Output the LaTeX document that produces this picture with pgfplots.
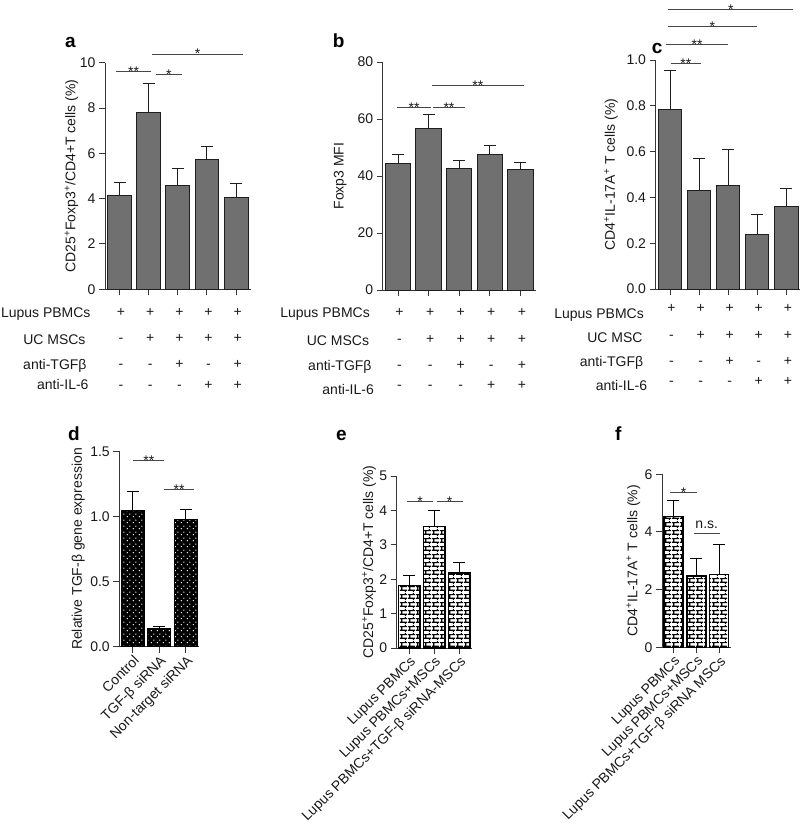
\documentclass[border=0pt]{standalone}
\usepackage{fontspec}
\setmainfont{Liberation Sans}
\usepackage{pgfplots}
\pgfplotsset{compat=1.18}
\usetikzlibrary{patterns.meta}

\definecolor{axcol}{RGB}{55,55,55}
\definecolor{barfill}{RGB}{112,112,112}
\definecolor{bardraw}{RGB}{30,30,30}
\definecolor{sigcol}{RGB}{70,70,70}

% white dots on black (panel d), black bricks on white (panels e, f)
\tikzdeclarepattern{name=wdots, type=uncolored,
  bottom left={(0pt,0pt)}, top right={(6pt,6pt)}, tile size={(6pt,6pt)},
  code={\fill (1.5pt,1.5pt) circle (0.8pt); \fill (4.5pt,4.5pt) circle (0.8pt);}}
\tikzdeclarepattern{name=wbricks, type=uncolored,
  bottom left={(0pt,0pt)}, top right={(8pt,8pt)}, tile size={(8pt,8pt)},
  code={\draw[line width=1.25pt] (0pt,2pt) -- (8pt,2pt) (0pt,6pt) -- (8pt,6pt)
    (2pt,2pt) -- (2pt,6pt) (6pt,6pt) -- (6pt,8pt) (6pt,0pt) -- (6pt,2pt);}}

\newcommand{\fs}{\fontsize{14}{16.8}\selectfont}
\newcommand{\sg}[4]{\begin{tabular}{@{}c@{}}#1\\[9.7pt]#2\\[9.2pt]#3\\[3.7pt]#4\end{tabular}}

\tikzset{star/.style={pos=0.5, anchor=base, yshift=-4.7pt, inner sep=0pt, font=\fs, text=black!90}}

\pgfplotsset{
  panel/.style={
    scale only axis, anchor=south west, clip=false,
    axis lines=left, axis line style={-, line width=1pt, draw=axcol},
    tick align=outside, major tick length=6pt,
    tick style={line width=1pt, draw=axcol},
    ymin=0, xmin=0.5,
    ticklabel style={font=\fs, text=black!90},
    ylabel style={font=\fs, text=black!90, anchor=center},
    /pgf/number format/assume math mode=true,
  },
  signs/.style={xtick={1,...,5},
    xticklabels={{\sg{+}{-}{-}{-}},{\sg{+}{+}{-}{-}},{\sg{+}{+}{+}{-}},{\sg{+}{+}{-}{+}},{\sg{+}{+}{+}{+}}},
    xticklabel style={anchor=north, inner sep=0pt, yshift=#1, xshift=1.5pt}},
  rotlab/.style={xtick={1,2,3},
    xticklabel style={rotate=45, anchor=north east, inner sep=1pt}},
  errs/.style={error bars/y dir=plus, error bars/y explicit,
    error bars/error bar style={line width=1pt, draw=#1},
    error bars/error mark options={rotate=90, line width=1pt, mark size=6pt, draw=#1}},
  gbar/.style={ybar, bar width=#1, fill=barfill, draw=bardraw, line width=1pt, errs=bardraw},
  dbar/.style={ybar, bar width=#1, draw=black, line width=1.2pt,
    preaction={fill=black}, pattern=wdots, pattern color=white, errs=black},
  bbar/.style={ybar, bar width=#1, draw=black, line width=1.4pt,
    preaction={fill=white}, pattern=wbricks, pattern color=black, errs=black},
  sig/.style={sigcol, line width=1pt, no marks, forget plot},
}

\begin{document}
\begin{tikzpicture}[font=\fs]
\path[use as bounding box] (0,0) rectangle (800pt,-824pt);

% ---- a ----
\begin{axis}[panel, signs=-9pt, at={(105pt,-289.3pt)}, width=145.7pt, height=226.6pt,
  xmax=5.5, ymax=10, ytick={0,2,...,10},
  ylabel={CD25\textsuperscript{+}Foxp3\textsuperscript{+}/CD4+T cells (\%)},
  ylabel style={at={([xshift=-33.5pt]axis description cs:0,0.5)}}]
\addplot[gbar=0.82] coordinates {
  (1,4.16) +- (0,0.56) (2,7.82) +- (0,1.27) (3,4.59) +- (0,0.72)
  (4,5.74) +- (0,0.58) (5,4.03) +- (0,0.66)};
\addplot[sig] coordinates {(0.88,9.59) (2.08,9.59)} node[star]{**};
\addplot[sig] coordinates {(2.25,9.47) (3.14,9.47)} node[star]{*};
\addplot[sig] coordinates {(2.11,10.38) (5.24,10.38)} node[star]{*};
\end{axis}

% ---- b ----
\begin{axis}[panel, signs=-9pt, at={(382.7pt,-290pt)}, width=153pt, height=228pt,
  xmax=5.5, ymax=80, ytick={0,20,...,80},
  ylabel={Foxp3 MFI},
  ylabel style={at={([xshift=-42.4pt]axis description cs:0,0.5)}}]
\addplot[gbar=0.83] coordinates {
  (1,44.4) +- (0,3.3) (2,56.6) +- (0,5.15) (3,42.6) +- (0,3.0)
  (4,47.5) +- (0,3.1) (5,42.2) +- (0,2.6)};
\addplot[sig] coordinates {(0.98,64.1) (2.07,64.1)} node[star]{**};
\addplot[sig] coordinates {(2.15,64.1) (3.18,64.1)} node[star]{**};
\addplot[sig] coordinates {(2.1,71.8) (5.12,71.8)} node[star]{**};
\end{axis}

% ---- c ----
\begin{axis}[panel, signs=-6pt, at={(655.5pt,-289pt)}, width=144pt, height=229pt,
  xmax=5.45, ymax=1, ytick={0,0.2,...,1.0},
  yticklabel style={/pgf/number format/.cd, fixed, fixed zerofill, precision=1},
  ylabel={CD4\textsuperscript{+}IL-17A\textsuperscript{+} T cells (\%)},
  ylabel style={at={([xshift=-44.5pt]axis description cs:0,0.5)}}]
\addplot[gbar=0.80] coordinates {
  (1,0.786) +- (0,0.170) (2,0.430) +- (0,0.141) (3,0.453) +- (0,0.158)
  (4,0.238) +- (0,0.086) (5,0.362) +- (0,0.077)};
\addplot[sig] coordinates {(1.03,0.983) (2.05,0.983)} node[star]{**};
\addplot[sig] coordinates {(0.86,1.066) (3.0,1.066)} node[star]{**};
\addplot[sig] coordinates {(0.92,1.147) (3.98,1.147)} node[star]{*};
\addplot[sig] coordinates {(0.94,1.221) (5.24,1.221)} node[star]{*};
\end{axis}

% ---- d ----
\begin{axis}[panel, rotlab, at={(119.3pt,-646.7pt)}, width=80pt, height=195.4pt,
  xmax=3.5, ymax=1.5, ytick={0,0.5,1.0,1.5},
  yticklabel style={/pgf/number format/.cd, fixed, fixed zerofill, precision=1},
  xticklabels={Control, TGF-β siRNA, Non-target siRNA},
  ylabel={Relative TGF-β gene expression},
  ylabel style={at={([xshift=-41pt]axis description cs:0,0.5)}}]
\addplot[dbar=0.86] coordinates {
  (1,1.044) +- (0,0.146) (2,0.136) +- (0,0.018) (3,0.975) +- (0,0.08)};
\addplot[sig] coordinates {(1.03,1.428) (2.18,1.428)} node[star]{**};
\addplot[sig] coordinates {(2.18,1.203) (3.31,1.203)} node[star]{**};
\end{axis}

% ---- e ----
\begin{axis}[panel, rotlab, at={(396.7pt,-648pt)}, width=75pt, height=172pt,
  xmax=3.5, ymax=5, ytick={0,1,...,5},
  xticklabels={Lupus PBMCs, Lupus PBMCs+MSCs, Lupus PBMCs+TGF-β siRNA-MSCs},
  ylabel={CD25\textsuperscript{+}Foxp3\textsuperscript{+}/CD4+T cells (\%)},
  ylabel style={at={([xshift=-27.5pt]axis description cs:0,0.5)}}]
\addplot[bbar=0.85] coordinates {
  (1,1.82) +- (0,0.28) (2,3.54) +- (0,0.46) (3,2.18) +- (0,0.32)};
\addplot[sig] coordinates {(0.9,4.25) (1.97,4.25)} node[star]{*};
\addplot[sig] coordinates {(2.1,4.25) (3.14,4.25)} node[star]{*};
\end{axis}

% ---- f ----
\begin{axis}[panel, rotlab, at={(662pt,-647.3pt)}, width=68.7pt, height=173pt,
  xmax=3.5, ymax=6, ytick={0,2,4,6},
  xticklabels={Lupus PBMCs, Lupus PBMCs+MSCs, Lupus PBMCs+TGF-β siRNA MSCs},
  ylabel={CD4\textsuperscript{+}IL-17A\textsuperscript{+} T cells (\%)},
  ylabel style={at={([xshift=-28.7pt]axis description cs:0,0.5)}}]
\addplot[bbar=0.83] coordinates {
  (1,4.53) +- (0,0.56) (2,2.47) +- (0,0.61) (3,2.52) +- (0,1.03)};
\addplot[sig] coordinates {(0.85,5.36) (2.04,5.36)} node[star]{*};
\addplot[sig] coordinates {(1.89,3.95) (3.02,3.95)} node[star, yshift=9.7pt]{n.s.};
\end{axis}

% row labels of the treatment tables
\begin{scope}[every node/.style={anchor=base east, inner sep=0pt, text=black!90}]
\node at (90.7pt,-317.7pt) {Lupus PBMCs};
\node at (85.7pt,-344pt) {UC MSCs};
\node at (86.7pt,-369pt) {anti-TGFβ};
\node at (88.7pt,-389pt) {anti-IL-6};
\node at (370pt,-317.7pt) {Lupus PBMCs};
\node at (369.3pt,-345.7pt) {UC MSCs};
\node at (371.7pt,-370.3pt) {anti-TGFβ};
\node at (374pt,-394pt) {anti-IL-6};
\node at (644pt,-318.3pt) {Lupus PBMCs};
\node at (642.7pt,-342.7pt) {UC MSC};
\node at (643.3pt,-366.7pt) {anti-TGFβ};
\node at (647.3pt,-390pt) {anti-IL-6};
\end{scope}

% panel letters
\begin{scope}[every node/.style={anchor=base west, inner sep=0pt, font=\fontsize{19}{19}\selectfont\bfseries}]
\node at (65pt,-48pt) {a};
\node at (332.7pt,-48pt) {b};
\node at (651.7pt,-54pt) {c};
\node at (68pt,-440.7pt) {d};
\node at (336pt,-440.7pt) {e};
\node at (615pt,-440.7pt) {f};
\end{scope}
\end{tikzpicture}
\end{document}
